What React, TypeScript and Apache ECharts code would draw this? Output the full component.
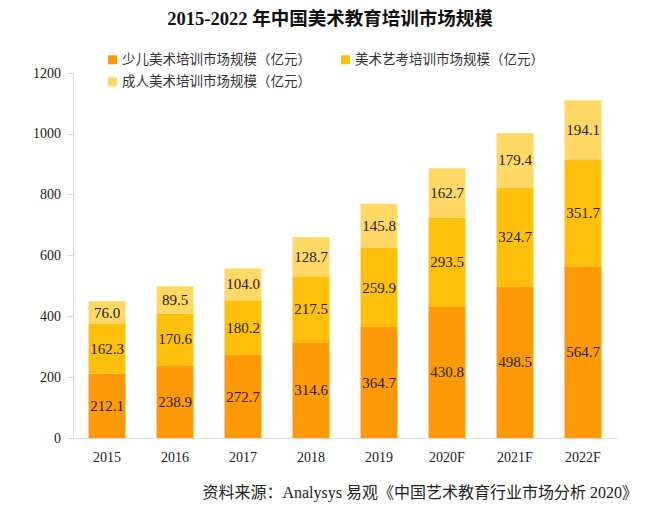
import React, { useEffect, useRef } from "react";
import * as echarts from "echarts";

const categories = ["2015", "2016", "2017", "2018", "2019", "2020F", "2021F", "2022F"];
const childValues = [212.1, 238.9, 272.7, 314.6, 364.7, 430.8, 498.5, 564.7];
const examValues = [162.3, 170.6, 180.2, 217.5, 259.9, 293.5, 324.7, 351.7];
const adultValues = [76.0, 89.5, 104.0, 128.7, 145.8, 162.7, 179.4, 194.1];
const seriesNames = ["少儿美术培训市场规模（亿元）", "美术艺考培训市场规模（亿元）", "成人美术培训市场规模（亿元）"];
const titleText = "2015-2022 年中国美术教育培训市场规模";
const sourceText = "资料来源：Analysys 易观《中国艺术教育行业市场分析 2020》";

const serif = "'Liberation Serif', 'Noto Sans CJK SC', serif";

export default function App() {
  const ref = useRef<HTMLDivElement>(null);
  useEffect(() => {
    if (!ref.current) return;
    const chart = echarts.init(ref.current, null, { renderer: "svg" });
    const colors = ["#FE9A08", "#FFC00C", "#FFD865"];
    const vals = [childValues, examValues, adultValues];
    const legendBase = {
      itemWidth: 9,
      itemHeight: 9,
      itemGap: 30,
      icon: "rect",
      textStyle: { fontFamily: serif, fontSize: 13.5, color: "#333" },
    };
    chart.setOption({
      animation: false,
      backgroundColor: "#ffffff",
      title: {
        text: titleText,
        left: "center",
        top: 5,
        textStyle: { fontFamily: serif, fontSize: 18.5, fontWeight: "bold", color: "#111" },
      },
      legend: [
        { ...legendBase, left: 103, top: 48, data: [seriesNames[0], seriesNames[1]] },
        { ...legendBase, left: 103, top: 70, data: [seriesNames[2]] },
      ],
      grid: { left: 73, right: 43, top: 73, bottom: 80 },
      xAxis: {
        type: "category",
        data: categories,
        axisLine: { lineStyle: { color: "#D9D9D9" } },
        axisTick: { show: false },
        axisLabel: { fontFamily: serif, fontSize: 14, color: "#222", margin: 12 },
      },
      yAxis: {
        type: "value",
        min: 0,
        max: 1200,
        interval: 200,
        splitLine: { show: false },
        axisLine: { show: true, lineStyle: { color: "#D9D9D9" } },
        axisTick: { show: true, length: 5, lineStyle: { color: "#D9D9D9" } },
        axisLabel: {
          fontFamily: serif,
          fontSize: 14,
          color: "#222",
          margin: 12,
          formatter: (v: number) => String(v),
        },
      },
      series: seriesNames.map((name, i) => ({
        name,
        type: "bar",
        stack: "total",
        barWidth: 37,
        legendHoverLink: false,
        itemStyle: { color: colors[i] },
        label: {
          show: true,
          position: "inside",
          fontFamily: serif,
          fontSize: 15,
          color: "#222",
          formatter: (p: any) => Number(p.value).toFixed(1),
        },
        data: vals[i],
      })),
      graphic: [
        {
          type: "text",
          right: 22,
          top: 484,
          style: { text: sourceText, font: `16px ${serif}`, fill: "#222" },
        },
      ],
    });
    return () => chart.dispose();
  }, []);
  return (
    <div
      ref={ref}
      style={{ position: "fixed", left: 0, top: 0, width: 660, height: 518 }}
    />
  );
}
